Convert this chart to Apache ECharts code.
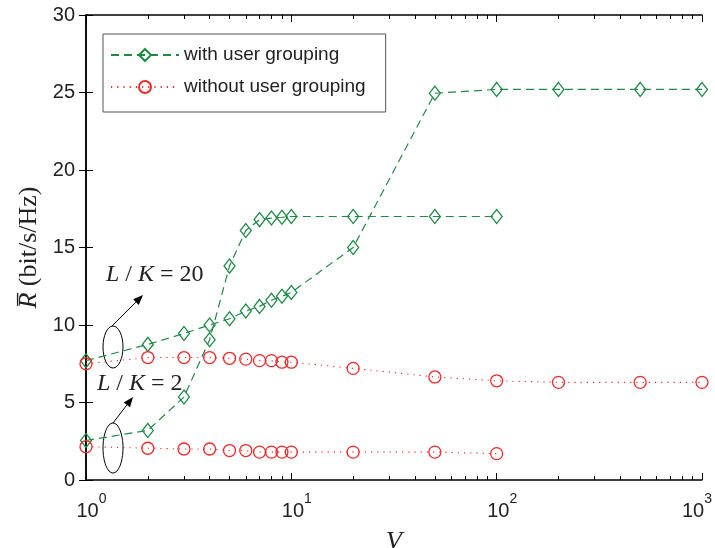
<!DOCTYPE html>
<html><head><meta charset="utf-8">
<script src="https://cdn.jsdelivr.net/npm/echarts@6/dist/echarts.min.js"></script>
<style>html,body{margin:0;padding:0;background:#fff}#c{width:715px;height:548px}</style>
</head><body><div id="c"></div>
<script>
// ---- data ----
const V_long = [1, 2, 3, 4, 5, 6, 7, 8, 9, 10, 20, 50, 100, 200, 500, 1000];
const V_short = [1, 2, 3, 4, 5, 6, 7, 8, 9, 10, 20, 50, 100];
const R_grp_LK20 = [7.7, 8.75, 9.45, 10.0, 10.4, 10.9, 11.2, 11.6, 11.85, 12.1, 15.0, 24.95, 25.2, 25.2, 25.2, 25.2];
const R_grp_LK2 = [2.55, 3.2, 5.35, 9.05, 13.8, 16.1, 16.8, 16.9, 16.95, 17.0, 17.0, 17.0, 17.0];
const R_nogrp_LK20 = [7.5, 7.9, 7.9, 7.9, 7.85, 7.8, 7.7, 7.7, 7.6, 7.6, 7.2, 6.65, 6.4, 6.3, 6.3, 6.3];
const R_nogrp_LK2 = [2.15, 2.05, 2.0, 2.0, 1.9, 1.9, 1.8, 1.8, 1.8, 1.8, 1.8, 1.8, 1.7];
const seriesNames = ['with user grouping', 'without user grouping'];
const xMajorTicks = [1, 10, 100, 1000];
const xMinorTicks = [2,3,4,5,6,7,8,9,20,30,40,50,60,70,80,90,200,300,400,500,600,700,800,900];
const yTickLabels = [0, 5, 10, 15, 20, 25, 30];
const annotations = ['20', '2'];

// ---- styles ----
const GREEN = '#1f8a45', RED = '#ee2a2a', INK = '#222';
const SANS = '"Liberation Sans", Arial, sans-serif';
const SERIF = '"Liberation Serif", "DejaVu Serif", serif';
const pairs = (xs, ys) => xs.map((x, i) => [x, ys[i]]);
const log10 = v => Math.log10(v);

function greenSeries(xs, ys) {
  return {
    type: 'line', name: seriesNames[0], data: pairs(xs, ys),
    xAxisIndex: 0, yAxisIndex: 0,
    symbol: 'diamond', symbolSize: [11, 14],
    itemStyle: { color: 'rgba(255,255,255,0)', borderColor: GREEN, borderWidth: 1.3 },
    lineStyle: { color: GREEN, width: 1.2, type: [8, 5] },
    emphasis: { disabled: true }, animation: false
  };
}
function redSeries(xs, ys) {
  return {
    type: 'line', name: seriesNames[1], data: pairs(xs, ys),
    xAxisIndex: 0, yAxisIndex: 0,
    symbol: 'circle', symbolSize: 12,
    itemStyle: { color: 'rgba(255,255,255,0)', borderColor: RED, borderWidth: 1.3 },
    lineStyle: { color: RED, width: 1.1, type: [1.2, 5] },
    emphasis: { disabled: true }, animation: false
  };
}

function arrow(x1, y1, x2, y2) {
  const dx = x2 - x1, dy = y2 - y1, L = Math.hypot(dx, dy);
  const ux = dx / L, uy = dy / L, hl = 10, hw = 4;
  const bx = x2 - ux * hl, by = y2 - uy * hl;
  return [
    { type: 'line', shape: { x1, y1, x2: bx, y2: by }, style: { stroke: '#000', lineWidth: 1 }, silent: true },
    { type: 'polygon', shape: { points: [[x2, y2], [bx - uy * hw, by + ux * hw], [bx + uy * hw, by - ux * hw]] }, style: { fill: '#000' }, silent: true }
  ];
}
function annot(x, y, val) {
  return {
    type: 'text', x, y, silent: true,
    style: {
      text: '{i|L} / {i|K} = ' + val, fill: INK,
      font: '24px ' + SERIF, verticalAlign: 'middle', align: 'left',
      rich: { i: { fontStyle: 'italic', fontSize: 24, fontFamily: SERIF } }
    }
  };
}

const chart = echarts.init(document.getElementById('c'), null, { renderer: 'canvas' });
const axisLine = { show: true, lineStyle: { color: '#000', width: 1.5 } };
const lastX = xMajorTicks[xMajorTicks.length - 1];

chart.setOption({
  animation: false,
  backgroundColor: '#fff',
  grid: { left: 86, right: 13, top: 15, bottom: 68, containLabel: false, outerBoundsMode: 'none' },
  legend: {
    left: 103, top: 34, orient: 'vertical',
    data: seriesNames,
    itemWidth: 68, itemHeight: 15, itemGap: 12,
    padding: [11, 20, 15, 7],
    borderColor: '#555', borderWidth: 1, backgroundColor: '#fff',
    textStyle: { fontSize: 19, fontFamily: SANS, color: INK, lineHeight: 20 },
    selectedMode: false
  },
  xAxis: [
    {
      type: 'log', logBase: 10, min: 1, max: 1000, position: 'bottom',
      axisLine, splitLine: { show: false },
      axisTick: { inside: true, length: 7, lineStyle: { color: '#000', width: 1 } },
      axisLabel: {
        margin: 12, color: INK, padding: [0, 0, 0, 11], hideOverlap: false,
        formatter: v => '{b|10}{' + (v === lastX ? 'e' : 's') + '|' + Math.round(log10(v)) + '}',
        rich: {
          b: { fontSize: 20, fontFamily: SANS, color: INK },
          s: { fontSize: 14, fontFamily: SANS, color: INK, padding: [0, 0, 24, 0] },
          e: { fontSize: 14, fontFamily: SANS, color: INK, padding: [0, 21, 24, 0] }
        }
      },
      name: 'V', nameLocation: 'middle', nameGap: 49,
      nameTextStyle: { fontFamily: SERIF, fontStyle: 'italic', fontSize: 26, color: INK }
    },
    {
      type: 'value', min: log10(1), max: log10(1000), position: 'bottom',
      axisLine: { show: false }, splitLine: { show: false }, axisLabel: { show: false },
      axisTick: { inside: true, length: 4, customValues: xMinorTicks.map(log10), lineStyle: { color: '#000', width: 1 } }
    },
    {
      type: 'log', logBase: 10, min: 1, max: 1000, position: 'top',
      axisLine, splitLine: { show: false }, axisLabel: { show: false },
      axisTick: { inside: true, length: 7, lineStyle: { color: '#000', width: 1 } }
    },
    {
      type: 'value', min: log10(1), max: log10(1000), position: 'top',
      axisLine: { show: false }, splitLine: { show: false }, axisLabel: { show: false },
      axisTick: { inside: true, length: 4, customValues: xMinorTicks.map(log10), lineStyle: { color: '#000', width: 1 } }
    }
  ],
  yAxis: [
    {
      type: 'value', min: yTickLabels[0], max: yTickLabels[yTickLabels.length - 1], interval: 5,
      position: 'left', axisLine, splitLine: { show: false },
      axisTick: { inside: true, length: 7, lineStyle: { color: '#000', width: 1 } },
      axisLabel: { margin: 11, fontSize: 20, fontFamily: SANS, color: INK },
      name: '{r|R\u0305} (bit/s/Hz)', nameLocation: 'middle', nameGap: 43,
      nameTextStyle: {
        fontFamily: SERIF, fontSize: 26, color: INK,
        rich: { r: { fontFamily: SERIF, fontStyle: 'italic', fontSize: 26, color: INK } }
      }
    },
    {
      type: 'value', min: yTickLabels[0], max: yTickLabels[yTickLabels.length - 1], interval: 5,
      position: 'right', axisLine, splitLine: { show: false }, axisLabel: { show: false },
      axisTick: { inside: true, length: 7, lineStyle: { color: '#000', width: 1 } }
    }
  ],
  series: [
    greenSeries(V_long, R_grp_LK20),
    greenSeries(V_short, R_grp_LK2),
    redSeries(V_long, R_nogrp_LK20),
    redSeries(V_short, R_nogrp_LK2)
  ],
  graphic: [
    { type: 'ellipse', shape: { cx: 113, cy: 347, rx: 10, ry: 21 }, style: { fill: 'none', stroke: '#000', lineWidth: 1 }, silent: true },
    { type: 'ellipse', shape: { cx: 113, cy: 448, rx: 10, ry: 25 }, style: { fill: 'none', stroke: '#000', lineWidth: 1 }, silent: true },
    ...arrow(112, 326, 143, 295),
    ...arrow(113, 423, 133, 397),
    annot(106, 275, annotations[0]),
    annot(97, 384, annotations[1])
  ]
});
</script>
</body></html>
